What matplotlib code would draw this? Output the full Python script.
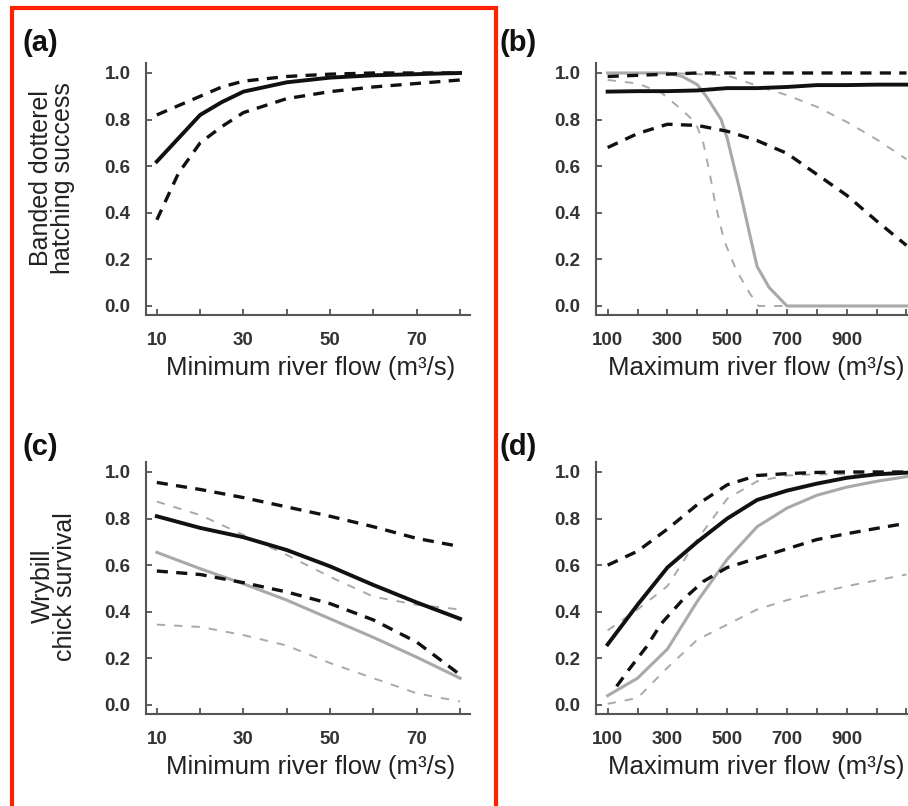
import matplotlib
matplotlib.use("Agg")
import matplotlib.pyplot as plt
from matplotlib.patches import Rectangle
from matplotlib.ticker import FixedLocator, FixedFormatter

# --- panel (a): banded dotterel hatching success vs minimum flow
a_x = [10, 15, 20, 25, 30, 40, 50, 60, 70, 80]
a_fit = [0.62, 0.72, 0.82, 0.875, 0.92, 0.96, 0.98, 0.99, 0.995, 1.0]
a_hi = [0.82, 0.86, 0.90, 0.94, 0.965, 0.985, 0.995, 1.0, 1.0, 1.0]
a_lo = [0.37, 0.57, 0.70, 0.77, 0.83, 0.89, 0.92, 0.94, 0.955, 0.97]

# --- panel (b): hatching success vs maximum flow
b_x = [100, 200, 300, 400, 500, 600, 700, 800, 900, 1000, 1100]
b_fit = [0.92, 0.922, 0.922, 0.925, 0.935, 0.935, 0.94, 0.948, 0.948, 0.95, 0.95]
b_hi = [0.985, 0.99, 0.995, 1.0, 1.0, 1.0, 1.0, 1.0, 1.0, 1.0, 1.0]
b_lo = [0.68, 0.74, 0.78, 0.775, 0.75, 0.71, 0.655, 0.565, 0.475, 0.365, 0.26]
b_grey_x = [100, 300, 350, 400, 430, 480, 500, 540, 575, 600, 640, 700, 800, 1100]
b_grey_fit = [1.0, 1.0, 0.985, 0.95, 0.90, 0.80, 0.72, 0.51, 0.31, 0.17, 0.08, 0.0, 0.0, 0.0]
b_grey_hi = [1.0, 1.0, 1.0, 0.995, 0.99, 0.945, 0.905, 0.855, 0.79, 0.715, 0.63]
b_grey_lo_x = [100, 200, 280, 350, 395, 420, 440, 460, 490, 530, 575, 605, 700, 1100]
b_grey_lo = [0.97, 0.955, 0.915, 0.84, 0.785, 0.70, 0.58, 0.44, 0.28, 0.155, 0.055, 0.0, 0.0, 0.0]

# --- panel (c): wrybill chick survival vs minimum flow
c_x = [10, 20, 30, 40, 50, 60, 70, 80]
c_fit = [0.81, 0.76, 0.72, 0.665, 0.595, 0.515, 0.44, 0.37]
c_hi = [0.955, 0.925, 0.89, 0.85, 0.81, 0.765, 0.715, 0.68]
c_lo = [0.575, 0.56, 0.525, 0.485, 0.435, 0.365, 0.27, 0.13]
c_grey_fit = [0.655, 0.585, 0.52, 0.45, 0.37, 0.29, 0.205, 0.115]
c_grey_hi = [0.873, 0.815, 0.73, 0.644, 0.55, 0.465, 0.43, 0.41]
c_grey_lo = [0.345, 0.335, 0.30, 0.255, 0.18, 0.115, 0.05, 0.015]

# --- panel (d): chick survival vs maximum flow
d_x = [100, 200, 300, 400, 500, 600, 700, 800, 900, 1000, 1100]
d_fit = [0.26, 0.43, 0.59, 0.70, 0.80, 0.88, 0.92, 0.95, 0.975, 0.99, 0.997]
d_hi = [0.60, 0.66, 0.755, 0.86, 0.945, 0.985, 0.993, 0.998, 1.0, 1.0, 1.0]
d_lo_x = [130, 170, 230, 280, 350, 420, 500, 600, 700, 800, 900, 1000, 1100]
d_lo = [0.08, 0.15, 0.25, 0.35, 0.45, 0.53, 0.59, 0.63, 0.67, 0.71, 0.735, 0.758, 0.78]
d_grey_fit = [0.04, 0.115, 0.24, 0.445, 0.625, 0.765, 0.845, 0.90, 0.935, 0.96, 0.98]
d_grey_hi = [0.32, 0.41, 0.51, 0.71, 0.885, 0.96, 0.985, 0.99, 0.99, 0.99, 0.99]
d_grey_lo = [0.005, 0.03, 0.16, 0.28, 0.345, 0.41, 0.45, 0.48, 0.51, 0.535, 0.56]

min_labels = ["10", "30", "50", "70"]
max_labels = ["100", "300", "500", "700", "900"]
y_ticks = [0.0, 0.2, 0.4, 0.6, 0.8, 1.0]

BLACK = "#111111"
GREY = "#a9a9a9"

plt.rcParams["font.family"] = ["Liberation Sans", "DejaVu Sans"]
plt.rcParams["lines.scale_dashes"] = False

fig = plt.figure(figsize=(9.08, 8.06), dpi=100)

W, H = 908.0, 806.0
def place(left_px, bottom_px, width_px, height_px):
    return [left_px / W, 1 - bottom_px / H, width_px / W, height_px / H]

ax_a = fig.add_axes(place(146, 315.3, 324, 252.8))
ax_b = fig.add_axes(place(596, 315.3, 430, 252.8))
ax_c = fig.add_axes(place(146, 714.3, 324, 252.8))
ax_d = fig.add_axes(place(596, 714.3, 430, 252.8))


def style(ax, kind):
    for s in ["top", "right"]:
        ax.spines[s].set_visible(False)
    for s in ["left", "bottom"]:
        ax.spines[s].set_color("#555555")
        ax.spines[s].set_linewidth(1.5)
    ax.set_ylim(-0.04, 1.045)
    ax.set_yticks(y_ticks)
    ax.set_yticklabels(["%.1f" % v for v in y_ticks])
    if kind == "min":
        ax.set_xlim(7.5, 82.3)
        ax.xaxis.set_major_locator(FixedLocator([10, 30, 50, 70]))
        ax.xaxis.set_major_formatter(FixedFormatter(min_labels))
        ax.xaxis.set_minor_locator(FixedLocator([20, 40, 60, 80]))
        ax.set_xlabel("Minimum river flow (m³/s)", fontsize=18.5, color="#222222")
        ax.xaxis.set_label_coords(0.508, -0.16)
    else:
        ax.set_xlim(61, 1500)
        ax.xaxis.set_major_locator(FixedLocator([100, 300, 500, 700, 900]))
        ax.xaxis.set_major_formatter(FixedFormatter(max_labels))
        ax.xaxis.set_minor_locator(FixedLocator([200, 400, 600, 800, 1000, 1100,
                                                 1200, 1300, 1400]))
        ax.set_xlabel("Maximum river flow (m³/s)", fontsize=18.5, color="#222222")
        ax.xaxis.set_label_coords(0.372, -0.16)
    ax.tick_params(which="both", direction="in", length=4, width=1.3,
                   color="#555555")
    ax.tick_params(axis="x", which="major", pad=12)
    ax.tick_params(axis="y", pad=11)
    for lab in ax.get_xticklabels() + ax.get_yticklabels():
        lab.set_fontsize(13.5)
        lab.set_fontweight("bold")
        lab.set_color("#333333")


style(ax_a, "min")
style(ax_b, "max")
style(ax_c, "min")
style(ax_d, "max")

dash_k = dict(color=BLACK, lw=2.4, dashes=(8, 6))
dash_g = dict(color=GREY, lw=1.4, dashes=(6, 6.5))

# (a)
ax_a.plot(a_x, a_hi, **dash_k)
ax_a.plot(a_x, a_lo, **dash_k)
ax_a.plot(a_x, a_fit, color=BLACK, lw=2.8)

# (b)
ax_b.plot(b_x, b_grey_hi, **dash_g)
ax_b.plot(b_grey_lo_x, b_grey_lo, **dash_g)
ax_b.plot(b_grey_x, b_grey_fit, color=GREY, lw=2.2)
ax_b.plot(b_x, b_hi, **dash_k)
ax_b.plot(b_x, b_lo, **dash_k)
ax_b.plot(b_x, b_fit, color=BLACK, lw=2.8)

# (c)
ax_c.plot(c_x, c_grey_hi, **dash_g)
ax_c.plot(c_x, c_grey_lo, **dash_g)
ax_c.plot(c_x, c_grey_fit, color=GREY, lw=2.2)
ax_c.plot(c_x, c_hi, **dash_k)
ax_c.plot(c_x, c_lo, **dash_k)
ax_c.plot(c_x, c_fit, color=BLACK, lw=2.8)

# (d)
ax_d.plot(d_x, d_grey_hi, **dash_g)
ax_d.plot(d_x, d_grey_lo, **dash_g)
ax_d.plot(d_x, d_grey_fit, color=GREY, lw=2.2)
ax_d.plot(d_x, d_hi, **dash_k)
ax_d.plot(d_lo_x, d_lo, **dash_k)
ax_d.plot(d_x, d_fit, color=BLACK, lw=2.8)

ax_a.set_ylabel("Banded dotterel\nhatching success", fontsize=18,
                color="#222222", linespacing=0.9)
ax_a.yaxis.set_label_coords(-0.219, 0.543)
ax_c.set_ylabel("Wrybill\nchick survival", fontsize=18,
                color="#222222", linespacing=0.9)
ax_c.yaxis.set_label_coords(-0.213, 0.507)

# panel letters
for txt, xp, yp in [("(a)", 23, 43), ("(b)", 500, 43), ("(c)", 23, 447), ("(d)", 500, 447)]:
    fig.text(xp / W, 1 - yp / H, txt, fontsize=21, fontweight="bold",
             color="#111111", ha="left", va="center")

# red highlight frame around the left column
fig.patches.append(Rectangle((12 / W, 1 - 830 / H), 484 / W, 822 / H,
                             transform=fig.transFigure, fill=False,
                             edgecolor="#ff2200", lw=3, zorder=10))

fig.savefig("out.png", dpi=100)
